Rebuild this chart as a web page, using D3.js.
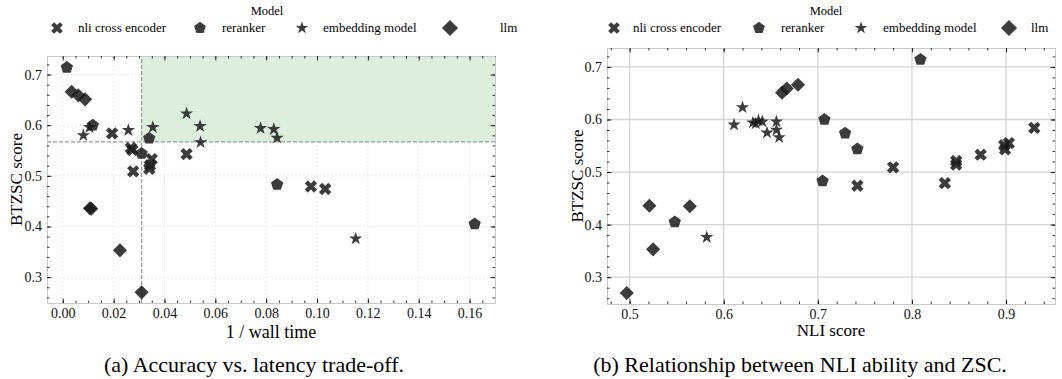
<!DOCTYPE html>
<html>
<head>
<meta charset="utf-8">
<script src="https://cdn.jsdelivr.net/npm/d3@7"></script>
<style>
  body { margin: 0; background: #fff; }
  svg { display: block; }
  svg text { font-family: "Liberation Serif", "DejaVu Serif", serif !important; }
</style>
</head>
<body>
<div id="chart"></div>
<script>
const models = ["nli cross encoder", "reranker", "embedding model", "llm"];

// one entry per model run: type, BTZSC score, 1 / wall time, NLI score
const modelType = [
  "nli cross encoder", "nli cross encoder", "nli cross encoder", "nli cross encoder", "nli cross encoder",
  "nli cross encoder", "nli cross encoder", "nli cross encoder", "nli cross encoder", "nli cross encoder",
  "reranker", "reranker", "reranker", "reranker", "reranker", "reranker",
  "embedding model", "embedding model", "embedding model", "embedding model", "embedding model", "embedding model",
  "embedding model", "embedding model", "embedding model", "embedding model", "embedding model",
  "llm", "llm", "llm", "llm", "llm", "llm", "llm"
];
const btzsc = [
  0.584, 0.555, 0.551, 0.543, 0.533, 0.521, 0.514, 0.509, 0.479, 0.474,
  0.714, 0.600, 0.574, 0.544, 0.483, 0.405,
  0.623, 0.598, 0.596, 0.596, 0.594, 0.592, 0.590, 0.580, 0.575, 0.566, 0.376,
  0.666, 0.659, 0.651, 0.436, 0.435, 0.353, 0.270
];
const invWallTime = [
  0.0194, 0.0268, 0.0274, 0.0487, 0.0350, 0.0343, 0.0340, 0.0277, 0.0976, 0.1032,
  0.0016, 0.0118, 0.0340, 0.0310, 0.0843, 0.1620,
  0.0487, 0.0540, 0.0105, 0.0354, 0.0778, 0.0830, 0.0258, 0.0081, 0.0843, 0.0542, 0.1152,
  0.0035, 0.0061, 0.0088, 0.0107, 0.0112, 0.0225, 0.0310
];
const nliScore = [
  0.930, 0.903, 0.898, 0.899, 0.873, 0.847, 0.847, 0.780, 0.835, 0.742,
  0.809, 0.707, 0.729, 0.742, 0.705, 0.548,
  0.620, 0.637, 0.641, 0.656, 0.631, 0.634, 0.611, 0.656, 0.646, 0.659, 0.582,
  0.679, 0.667, 0.662, 0.521, 0.564, 0.525, 0.497
];

// Pareto-style thresholds in panel (a)
const latencyCut = 0.031;
const scoreCut = 0.567;

const xTicksA = [0, 0.02, 0.04, 0.06, 0.08, 0.10, 0.12, 0.14, 0.16];
const xTicksB = [0.5, 0.6, 0.7, 0.8, 0.9];
const yTicks = [0.3, 0.4, 0.5, 0.6, 0.7];

const points = btzsc.map((d, i) => ({ type: modelType[i], y: d, lat: invWallTime[i], nli: nliScore[i] }));

const W = 1062, H = 379;
const serif = "Liberation Serif, DejaVu Serif, serif";
const ink = "#1a1a1a";

const svg = d3.select("#chart").append("svg")
  .attr("width", W)
  .attr("height", H)
  .attr("font-family", serif);

// pentagon marker (matplotlib 'p')
const symbolPentagon = {
  draw(ctx, size) {
    const r = Math.sqrt(size / 2.3776);
    for (let k = 0; k < 5; k++) {
      const a = -Math.PI / 2 + k * 2 * Math.PI / 5;
      const px = r * Math.cos(a), py = r * Math.sin(a);
      if (k === 0) ctx.moveTo(px, py); else ctx.lineTo(px, py);
    }
    ctx.closePath();
  }
};

const markers = {
  "nli cross encoder": { type: d3.symbolCross, size: 95, rot: 45 },
  "reranker": { type: symbolPentagon, size: 100, rot: 0 },
  "embedding model": { type: d3.symbolStar, size: 55, rot: 0 },
  "llm": { type: d3.symbolSquare, size: 100, rot: 45 }
};

function drawMarker(g, type, x, y, scale = 1) {
  const m = markers[type];
  g.append("path")
    .attr("d", d3.symbol().type(m.type).size(m.size * scale)())
    .attr("transform", `translate(${x},${y}) rotate(${m.rot})`)
    .attr("fill", ink)
    .attr("fill-opacity", 0.85);
}

function drawLegend(cx, items) {
  const g = svg.append("g");
  g.append("text")
    .attr("x", cx).attr("y", 15)
    .attr("text-anchor", "middle")
    .attr("font-size", "12.5px")
    .text("Model");
  items.forEach(it => {
    drawMarker(g, it.type, it.mx, 28, it.type === "llm" ? 1.3 : 0.9);
    g.append("text")
      .attr("x", it.tx).attr("y", 32)
      .attr("font-size", "13px")
      .text(it.type);
  });
}

function drawFrame(g, x, y, xMajor, yMajor, xMinor, yMinor, xFmt, yFmt) {
  const [x0, x1] = x.range();
  const [y0, y1] = y.range();

  g.append("g").attr("transform", `translate(0,${y0})`)
    .call(d3.axisBottom(x).tickValues(xMajor).tickFormat(xFmt).tickSizeInner(-4.5).tickSizeOuter(0).tickPadding(5));
  g.append("g").attr("transform", `translate(0,${y1})`)
    .call(d3.axisTop(x).tickValues(xMajor).tickFormat("").tickSizeInner(-4.5).tickSizeOuter(0));
  g.append("g").attr("transform", `translate(${x0},0)`)
    .call(d3.axisLeft(y).tickValues(yMajor).tickFormat(yFmt).tickSizeInner(-4.5).tickSizeOuter(0).tickPadding(5));
  g.append("g").attr("transform", `translate(${x1},0)`)
    .call(d3.axisRight(y).tickValues(yMajor).tickFormat("").tickSizeInner(-4.5).tickSizeOuter(0));

  // minor ticks
  g.append("g").attr("transform", `translate(0,${y0})`)
    .call(d3.axisBottom(x).tickValues(xMinor).tickFormat("").tickSizeInner(-2.5).tickSizeOuter(0));
  g.append("g").attr("transform", `translate(0,${y1})`)
    .call(d3.axisTop(x).tickValues(xMinor).tickFormat("").tickSizeInner(-2.5).tickSizeOuter(0));
  g.append("g").attr("transform", `translate(${x0},0)`)
    .call(d3.axisLeft(y).tickValues(yMinor).tickFormat("").tickSizeInner(-2.5).tickSizeOuter(0));
  g.append("g").attr("transform", `translate(${x1},0)`)
    .call(d3.axisRight(y).tickValues(yMinor).tickFormat("").tickSizeInner(-2.5).tickSizeOuter(0));

  g.selectAll("g").attr("font-family", serif);
  g.selectAll(".domain").attr("stroke", "#c8c8c8");
  g.selectAll(".tick line").attr("stroke", "#000").attr("stroke-width", 0.8);
  g.selectAll(".tick text")
    .attr("font-size", "14px")
    .attr("fill", "#111");
}

// ---------------- panel (a) ----------------
const xA = d3.scaleLinear().domain([-0.0062, 0.170]).range([47, 495]);
const yA = d3.scaleLinear().domain([0.249, 0.7366]).range([303, 56]);

const gA = svg.append("g");

gA.append("rect")
  .attr("x", xA(latencyCut))
  .attr("y", yA.range()[1])
  .attr("width", xA.range()[1] - xA(latencyCut))
  .attr("height", yA(scoreCut) - yA.range()[1])
  .attr("fill", "#dcefdc");

gA.append("g").selectAll("line.gx")
  .data(xTicksA).enter().append("line")
  .attr("x1", d => xA(d)).attr("x2", d => xA(d))
  .attr("y1", yA.range()[0]).attr("y2", yA.range()[1])
  .attr("stroke", "#e4e4e4").attr("stroke-width", 0.8).attr("stroke-dasharray", "2,2");
gA.append("g").selectAll("line.gy")
  .data(yTicks).enter().append("line")
  .attr("x1", xA.range()[0]).attr("x2", xA.range()[1])
  .attr("y1", d => yA(d)).attr("y2", d => yA(d))
  .attr("stroke", "#e4e4e4").attr("stroke-width", 0.8).attr("stroke-dasharray", "2,2");

gA.append("line")
  .attr("x1", xA(latencyCut)).attr("x2", xA(latencyCut))
  .attr("y1", yA.range()[0]).attr("y2", yA.range()[1])
  .attr("stroke", "#999").attr("stroke-width", 1.3).attr("stroke-dasharray", "4,2");
gA.append("line")
  .attr("x1", xA.range()[0]).attr("x2", xA.range()[1])
  .attr("y1", yA(scoreCut)).attr("y2", yA(scoreCut))
  .attr("stroke", "#999").attr("stroke-width", 1.3).attr("stroke-dasharray", "4,2");

drawFrame(gA, xA, yA, xTicksA, yTicks,
  d3.range(0, 0.171, 0.005), d3.range(0.26, 0.74, 0.02),
  d3.format(".2f"), d3.format(".1f"));

const ptsA = gA.append("g");
points.forEach(p => drawMarker(ptsA, p.type, xA(p.lat), yA(p.y)));

gA.append("text")
  .attr("x", 271).attr("y", 338)
  .attr("text-anchor", "middle")
  .attr("font-size", "18px")
  .text("1 / wall time");
gA.append("text")
  .attr("transform", `translate(22,${(yA.range()[0] + yA.range()[1]) / 2}) rotate(-90)`)
  .attr("text-anchor", "middle")
  .attr("font-size", "17px")
  .text("BTZSC score");

// ---------------- panel (b) ----------------
const xB = d3.scaleLinear().domain([0.476, 0.952]).range([607, 1055]);
const yB = d3.scaleLinear().domain([0.249, 0.736]).range([304, 48]);

const gB = svg.append("g");

gB.append("g").selectAll("line.gx")
  .data(xTicksB).enter().append("line")
  .attr("x1", d => xB(d)).attr("x2", d => xB(d))
  .attr("y1", yB.range()[0]).attr("y2", yB.range()[1])
  .attr("stroke", "#d4d4d4").attr("stroke-width", 1.3);
gB.append("g").selectAll("line.gy")
  .data(yTicks).enter().append("line")
  .attr("x1", xB.range()[0]).attr("x2", xB.range()[1])
  .attr("y1", d => yB(d)).attr("y2", d => yB(d))
  .attr("stroke", "#d4d4d4").attr("stroke-width", 1.3);

drawFrame(gB, xB, yB, xTicksB, yTicks,
  d3.range(0.48, 0.951, 0.02), d3.range(0.26, 0.74, 0.02),
  d3.format(".1f"), d3.format(".1f"));

const ptsB = gB.append("g");
points.forEach(p => drawMarker(ptsB, p.type, xB(p.nli), yB(p.y)));

gB.append("text")
  .attr("x", 831).attr("y", 336)
  .attr("text-anchor", "middle")
  .attr("font-size", "17px")
  .text("NLI score");
gB.append("text")
  .attr("transform", `translate(583,${(yB.range()[0] + yB.range()[1]) / 2}) rotate(-90)`)
  .attr("text-anchor", "middle")
  .attr("font-size", "17px")
  .text("BTZSC score");

// legends
drawLegend(267, [
  { type: models[0], mx: 57, tx: 78 },
  { type: models[1], mx: 200, tx: 222 },
  { type: models[2], mx: 302, tx: 323 },
  { type: models[3], mx: 450, tx: 500 }
]);
drawLegend(826, [
  { type: models[0], mx: 614, tx: 633 },
  { type: models[1], mx: 759, tx: 781 },
  { type: models[2], mx: 861, tx: 883 },
  { type: models[3], mx: 1009, tx: 1031 }
]);

// captions
svg.append("text")
  .attr("x", 254).attr("y", 372)
  .attr("text-anchor", "middle")
  .attr("font-size", "22px")
  .text("(a) Accuracy vs. latency trade-off.");
svg.append("text")
  .attr("x", 800).attr("y", 372)
  .attr("text-anchor", "middle")
  .attr("font-size", "22px")
  .text("(b) Relationship between NLI ability and ZSC.");
</script>
</body>
</html>
